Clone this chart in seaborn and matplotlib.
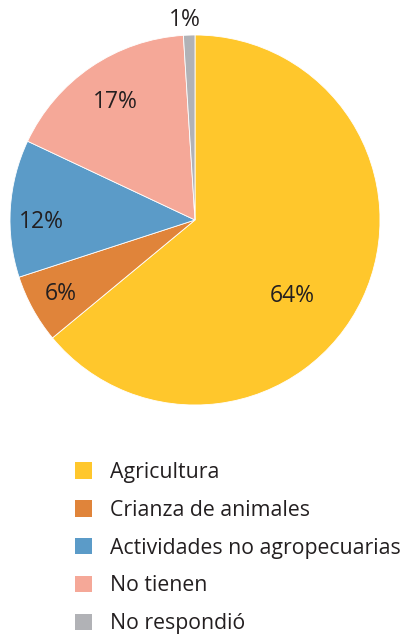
import matplotlib
matplotlib.use("Agg")
import matplotlib.pyplot as plt
import numpy as np
import seaborn as sns

# --- datos ---
categorias = ["Agricultura", "Crianza de animales", "Actividades no agropecuarias",
              "No tienen", "No respondió"]
porcentajes = [64, 6, 12, 17, 1]
colores = ["#FFC72C", "#E0843A", "#5B9BC8", "#F5A898", "#B1B2B6"]

# posición de cada etiqueta: distancia (en radios) y giro respecto al centro de la cuña
dist_etiqueta = [0.67, 0.83, 0.83, 0.77, 1.08]
giro_etiqueta = [-12.9, 0, 4.3, 0, 1.0]

TEXTO = "#231F20"

sns.set_theme(style="white")
plt.rcParams['font.family'] = ['Open Sans', 'DejaVu Sans']

W, H = 405, 635
fig = plt.figure(figsize=(W / 100, H / 100), dpi=100)
cx, cy, r = 195, 220, 185
ax = fig.add_axes([(cx - r) / W, (H - cy - r) / H, 2 * r / W, 2 * r / H])

wedges, _ = ax.pie(porcentajes, colors=sns.color_palette(colores), startangle=90,
                   counterclock=False, radius=1,
                   wedgeprops=dict(edgecolor="white", linewidth=0.6))

for w, p, d, g in zip(wedges, porcentajes, dist_etiqueta, giro_etiqueta):
    ang = np.deg2rad((w.theta1 + w.theta2) / 2 + g)
    ax.text(d * np.cos(ang), d * np.sin(ang), f"{p}%", ha="center", va="center",
            fontsize=16.5, color=TEXTO)

ax.set_xlim(-1, 1)
ax.set_ylim(-1, 1)
ax.set_aspect("equal")
ax.axis("off")

leg = fig.legend(wedges, categorias, loc="upper left",
                 bbox_to_anchor=(75 / W, 1 - 462 / H), frameon=False,
                 fontsize=15.3, handlelength=0.8, handleheight=0.8,
                 handletextpad=0.85, labelspacing=0.79, borderpad=0,
                 borderaxespad=0)
for t in leg.get_texts():
    t.set_color(TEXTO)
for h in leg.legend_handles:
    h.set_edgecolor("none")

fig.savefig("out.png", dpi=100, facecolor="white")
